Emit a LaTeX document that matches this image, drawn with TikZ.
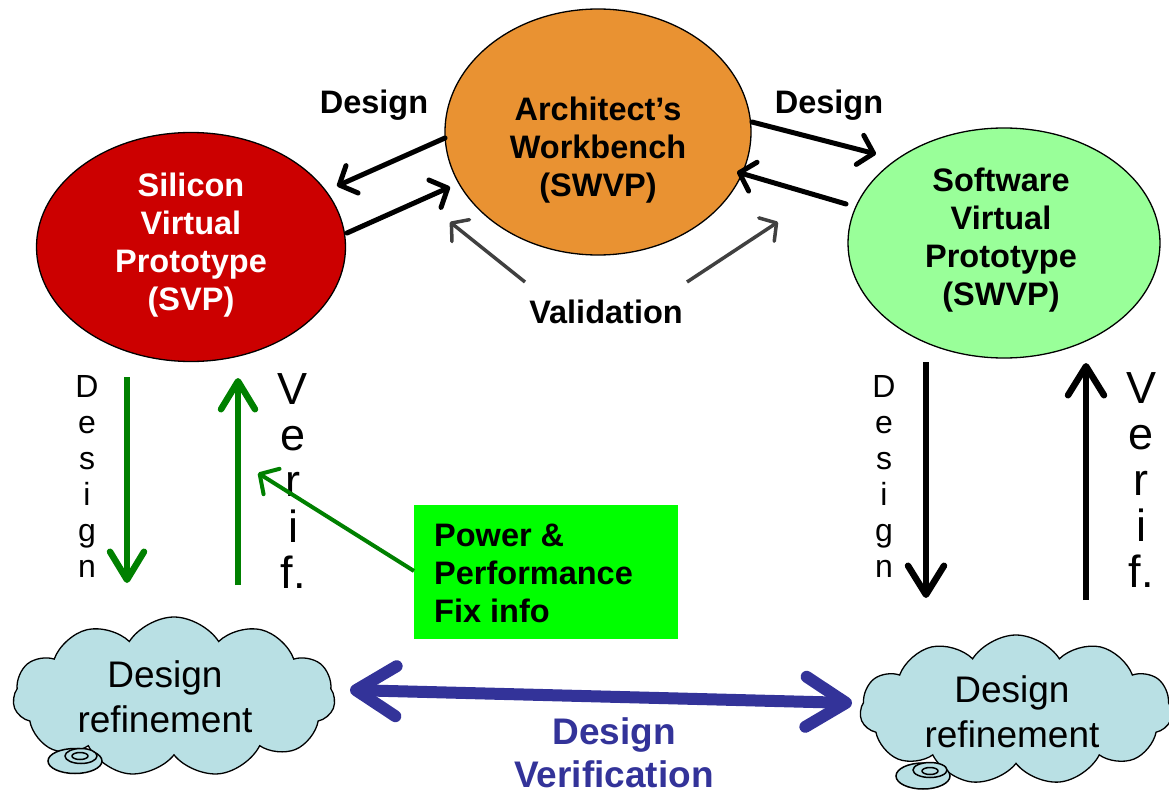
\documentclass[tikz,border=0pt]{standalone}
\usepackage{fontspec}
\setmainfont{Liberation Sans}
\usetikzlibrary{arrows.meta,shapes.geometric,shapes.symbols}
\definecolor{svpred}{HTML}{CC0000}
\definecolor{archorange}{HTML}{E99232}
\definecolor{swgreen}{HTML}{99FF99}
\definecolor{boxgreen}{HTML}{00FF00}
\definecolor{arrgreen}{HTML}{008000}
\definecolor{dvblue}{HTML}{333399}
\definecolor{cloudblue}{HTML}{B9E0E4}
\definecolor{valgray}{HTML}{404040}
\newcommand\ftbold{\fontsize{32.5bp}{38bp}\selectfont\bfseries}
\newcommand\ftvdes{\fontsize{32bp}{36bp}\selectfont}
\newcommand\ftverif{\fontsize{45bp}{46bp}\selectfont}
\newcommand\ftcloud{\fontsize{37bp}{45bp}\selectfont}
\newcommand\ftdv{\fontsize{37bp}{43bp}\selectfont\bfseries}
\tikzset{
  bubble/.style={ellipse, draw=black, line width=1.3bp, inner sep=0pt},
  lbl/.style={align=center, inner sep=0pt},
  blackarr/.style={line width=5bp, line cap=round, -{Straight Barb[length=14bp,width=30bp,round]}},
  grayarr/.style={valgray, line width=3.5bp, -{Straight Barb[length=12bp,width=28bp,round]}},
  vgreen/.style={arrgreen, line width=6.5bp, -{Straight Barb[length=28bp,width=34bp,round]}},
  vblack/.style={black, line width=6.5bp, -{Straight Barb[length=29bp,width=36bp,round]}},
  diaggreen/.style={arrgreen, line width=4bp, -{Straight Barb[length=14bp,width=30bp,round]}},
  cloudbox/.style={cloud, cloud puffs=11, cloud puff arc=115, cloud ignores aspect, draw=black, fill=cloudblue, line width=1.3bp, inner sep=0pt},
  tailring/.style={ellipse, draw=black, line width=1.5bp, fill=cloudblue, inner sep=0pt},
}
\begin{document}
\begin{tikzpicture}[x=1bp,y=-1bp]
\useasboundingbox (0,0) rectangle (1169,794);
% ellipses
\node[bubble, fill=archorange, minimum width=306bp, minimum height=246bp] (arch) at (598,132) {};
\node[lbl, font=\ftbold] (archtxt) at (598,150) {Architect’s\\Workbench\\(SWVP)};
\node[bubble, fill=svpred, minimum width=309bp, minimum height=229bp] (svp) at (191,247) {};
\node[lbl, font=\ftbold, text=white] (svptxt) at (191,245) {Silicon\\Virtual\\Prototype\\(SVP)};
\node[bubble, fill=swgreen, minimum width=312bp, minimum height=230bp] (swvp) at (1004,243) {};
\node[lbl, font=\ftbold] (swvptxt) at (1001,240) {Software\\Virtual\\Prototype\\(SWVP)};
% top labels
\node[lbl, font=\ftbold] (dl) at (374,105) {Design};
\node[lbl, font=\ftbold] (dr) at (829,105) {Design};
\node[lbl, font=\ftbold] (val) at (606,312) {Validation};
% endpoints
\coordinate (a1s) at (445,138); \coordinate (a1e) at (337,186);
\coordinate (a2s) at (347,233); \coordinate (a2e) at (450,187);
\coordinate (a3s) at (752,122); \coordinate (a3e) at (876,154);
\coordinate (a4s) at (846,204); \coordinate (a4e) at (737,172);
\coordinate (v1s) at (525,282); \coordinate (v1e) at (450,222);
\coordinate (v2s) at (687,282); \coordinate (v2e) at (778,222);
\draw[blackarr] (a1s) -- (a1e);
\draw[blackarr] (a2s) -- (a2e);
\draw[blackarr] (a3s) -- (a3e);
\draw[blackarr] (a4s) -- (a4e);
\draw[grayarr] (v1s) -- (v1e);
\draw[grayarr] (v2s) -- (v2e);
% vertical arrows left
\coordinate (lds) at (127,377); \coordinate (lde) at (127,583);
\coordinate (lvs) at (238,585); \coordinate (lve) at (238,378);
\draw[vgreen] (lds) -- (lde);
\draw[vgreen] (lvs) -- (lve);
\node[lbl, anchor=north, font=\ftvdes] (ldtxt) at (87,375) {D\\e\\s\\i\\g\\n};
\node[lbl, anchor=north, font=\ftverif] (lvtxt) at (293,373) {V\\e\\r\\i\\f.};
% vertical arrows right
\coordinate (rds) at (926,362); \coordinate (rde) at (926,598);
\coordinate (rvs) at (1086,600); \coordinate (rve) at (1086,363);
\draw[vblack] (rds) -- (rde);
\draw[vblack] (rvs) -- (rve);
\node[lbl, anchor=north, font=\ftvdes] (rdtxt) at (884,375) {D\\e\\s\\i\\g\\n};
\node[lbl, anchor=north, font=\ftverif] (rvtxt) at (1141,372) {V\\e\\r\\i\\f.};
% power box
\node[fill=boxgreen, minimum width=264bp, minimum height=134bp, inner sep=0pt, anchor=north west] (pbox) at (414,505) {};
\node[lbl, align=left, anchor=west, font=\ftbold] (pboxtxt) at (434,573) {Power \&\\Performance\\Fix info};
\coordinate (gde) at (258,473);
\draw[diaggreen] (pbox.west |- 0,571) -- (gde);
% clouds
\node[cloudbox, minimum width=322bp, minimum height=160bp] (lcloud) at (174,697) {};
\node[lbl, font=\ftcloud] (lctxt) at (165,697) {Design\\refinement};
\node[tailring, minimum width=54bp, minimum height=25bp] (ltail1) at (75,761) {};
\node[tailring, minimum width=32bp, minimum height=15bp] (ltail2) at (81,756) {};
\node[tailring, minimum width=16bp, minimum height=7bp] (ltail3) at (80,756) {};
\node[cloudbox, minimum width=312bp, minimum height=150bp] (rcloud) at (1016,710) {};
\node[lbl, font=\ftcloud] (rctxt) at (1012,712) {Design\\refinement};
\node[tailring, minimum width=54bp, minimum height=26bp] (rtail1) at (923,776) {};
\node[tailring, minimum width=34bp, minimum height=15bp] (rtail2) at (930,770) {};
\node[tailring, minimum width=16bp, minimum height=7bp] (rtail3) at (930,771) {};
% design verification
\coordinate (dvl) at (350,690); \coordinate (dvr) at (852,703);
\draw[dvblue, line width=12bp, {Straight Barb[length=40bp,width=50bp,round]}-{Straight Barb[length=40bp,width=50bp,round]}] (dvl) -- (dvr);
\node[lbl, font=\ftdv, text=dvblue] (dvtxt) at (614,753) {Design\\Verification};
\end{tikzpicture}
\end{document}
